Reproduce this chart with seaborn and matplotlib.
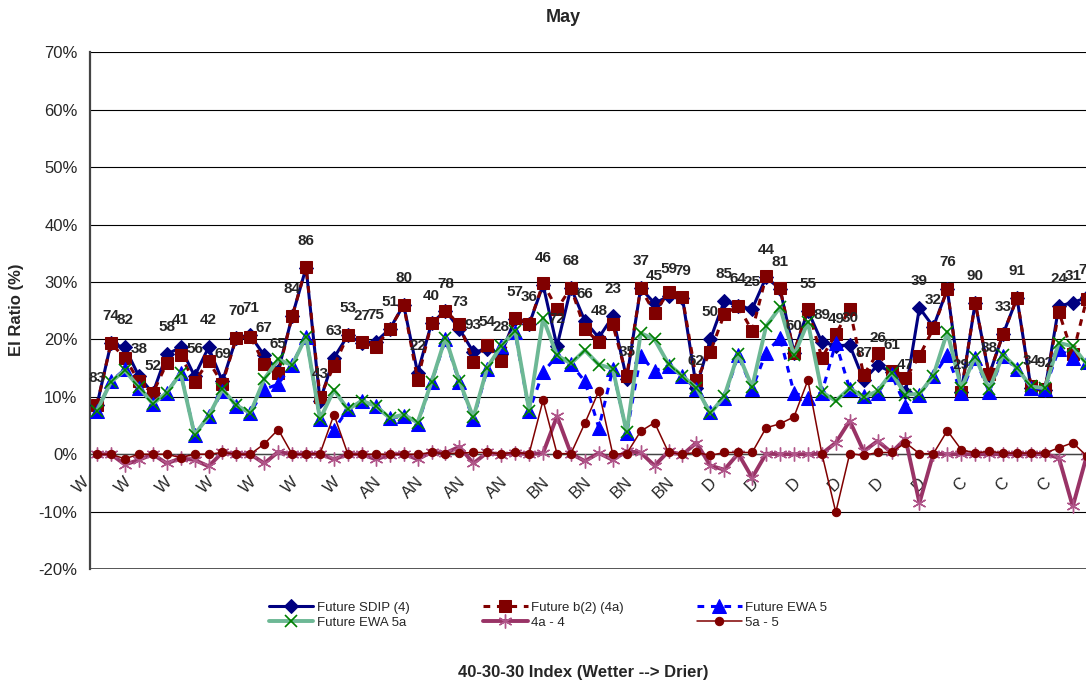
import matplotlib
matplotlib.use("Agg")
import matplotlib.pyplot as plt
import pandas as pd
import seaborn as sns

# water years (last two digits), sorted wet -> dry by the 40-30-30 index
years = [83, 74, 82, 38, 52, 58, 41, 56, 42, 69, 70, 71, 67, 65, 84, 86, 43, 63, 53, 27,
         75, 51, 80, 22, 40, 78, 73, 93, 54, 28, 57, 36, 46, 72, 68, 66, 48, 23, 35, 37,
         45, 59, 79, 62, 50, 85, 64, 25, 44, 81, 60, 55, 89, 49, 30, 87, 26, 61, 47, 39,
         32, 76, 29, 90, 88, 33, 91, 34, 92, 24, 31, 77]

# year type shown on every third category
type_labels = ["W"] * 7 + ["AN"] * 4 + ["BN"] * 4 + ["D"] * 6 + ["C"] * 3

sdip = [8.6, 19.3, 18.6, 13.6, 10.6, 17.4, 18.6, 13.6, 18.6, 12.7, 20.3, 20.7, 17.2, 14.5, 24.0,
        32.5, 9.3, 16.8, 20.7, 19.4, 19.6, 21.8, 26.0, 14.2, 22.8, 25.0, 21.8, 17.8, 18.3, 17.5,
        23.6, 22.6, 29.5, 18.8, 29.0, 23.2, 20.3, 24.0, 13.1, 28.9, 26.3, 27.5, 27.2, 11.6, 20.0,
        26.7, 25.8, 25.3, 30.8, 28.8, 17.7, 25.0, 19.5, 18.9, 19.0, 12.9, 15.5, 14.3, 10.8, 25.5,
        22.2, 28.7, 10.8, 26.4, 13.8, 20.9, 27.2, 11.6, 11.1, 25.8, 26.4, 27.3]

b2 = [8.6, 19.3, 16.8, 12.7, 10.6, 15.8, 17.2, 12.6, 16.2, 12.3, 20.3, 20.5, 15.7, 14.1, 24.0,
      32.6, 10.0, 15.4, 20.7, 19.5, 18.7, 21.8, 26.0, 13.0, 22.8, 25.0, 22.6, 16.1, 19.1, 16.2,
      23.8, 22.6, 29.8, 25.3, 29.0, 21.8, 19.5, 22.6, 13.6, 28.9, 24.6, 28.2, 27.3, 13.0, 17.8,
      24.4, 25.8, 21.5, 31.0, 28.9, 17.7, 25.3, 16.8, 20.9, 25.3, 13.8, 17.6, 14.5, 13.2, 17.1,
      21.9, 28.7, 10.8, 26.4, 13.9, 20.9, 27.2, 11.9, 11.3, 24.8, 17.4, 27.0]

ewa5 = [7.5, 12.7, 14.8, 11.6, 8.7, 10.7, 14.2, 3.4, 6.6, 11.0, 8.4, 7.2, 11.3, 12.2, 15.6,
        20.5, 6.1, 4.3, 7.8, 9.3, 8.4, 6.3, 6.6, 5.2, 12.5, 20.0, 12.5, 6.1, 14.8, 18.8,
        21.2, 7.5, 14.3, 17.1, 15.7, 12.7, 4.6, 14.8, 3.7, 17.1, 14.5, 15.4, 13.6, 11.3, 7.3,
        9.8, 17.2, 11.4, 17.7, 20.3, 10.7, 9.8, 10.7, 19.4, 11.4, 10.1, 10.7, 13.9, 8.4, 10.4,
        13.6, 17.2, 10.7, 16.8, 10.8, 17.1, 14.8, 11.6, 11.3, 18.3, 16.8, 16.0]

ewa5a = [7.6, 12.6, 14.6, 11.7, 8.8, 10.7, 14.1, 3.4, 6.6, 11.3, 8.5, 7.2, 13.1, 16.5, 15.5,
         20.5, 6.1, 11.2, 7.8, 9.3, 8.4, 6.3, 6.9, 5.5, 12.6, 20.3, 12.7, 6.4, 15.1, 18.9,
         21.5, 7.6, 23.7, 17.2, 15.8, 18.1, 15.6, 14.9, 3.8, 21.1, 20.0, 15.7, 13.6, 11.6, 7.1,
         10.1, 17.5, 11.7, 22.3, 25.6, 17.2, 23.0, 10.8, 9.3, 11.5, 9.9, 11.0, 14.2, 10.4, 10.5,
         13.7, 21.3, 11.5, 17.0, 11.3, 17.3, 15.0, 11.8, 11.5, 19.4, 18.8, 15.7]

d4 = [0.0, 0.0, -1.8, -1.0, 0.0, -1.6, -0.7, -1.0, -2.1, 0.3, 0.0, 0.0, -1.6, 0.4, 0.0,
      0.0, 0.1, -0.9, 0.0, 0.0, -0.9, -0.1, 0.1, -0.9, 0.4, 0.2, 1.3, -1.6, 0.3, -0.1,
      0.2, 0.0, 0.2, 6.6, 0.1, -1.2, 0.2, -1.0, 0.5, 0.3, -2.0, 0.5, -0.1, 2.0, -2.0,
      -2.7, 0.1, -4.1, 0.1, 0.0, 0.0, 0.0, 0.1, 2.0, 5.8, 0.5, 2.3, 0.3, 2.7, -8.5,
      0.1, 0.0, 0.0, 0.0, 0.0, 0.0, 0.0, 0.0, 0.0, -0.6, -9.1, -0.3]

d5 = [0.0, 0.0, -0.8, 0.0, 0.0, 0.0, -0.6, 0.0, 0.0, 0.3, 0.0, 0.0, 1.8, 4.3, 0.0,
      0.0, 0.1, 6.9, 0.0, 0.0, 0.0, 0.0, 0.0, 0.0, 0.3, 0.1, 0.2, 0.3, 0.3, 0.1,
      0.3, 0.1, 9.4, 0.1, 0.1, 5.4, 11.0, 0.0, 0.1, 4.0, 5.5, 0.3, 0.0, 0.3, -0.2,
      0.3, 0.3, 0.3, 4.6, 5.3, 6.5, 12.9, 0.1, -10.1, 0.1, -0.2, 0.3, 0.3, 2.0, 0.1,
      0.1, 4.1, 0.8, 0.2, 0.5, 0.2, 0.2, 0.2, 0.2, 1.1, 2.0, -0.3]

FONT = ["Liberation Sans", "DejaVu Sans"]


def build_df():
    frames = []
    for name, vals in [("Future SDIP (4)", sdip), ("Future b(2) (4a)", b2),
                       ("Future EWA 5", ewa5), ("Future EWA 5a", ewa5a),
                       ("4a - 4", d4), ("5a - 5", d5)]:
        frames.append(pd.DataFrame({"idx": range(len(vals)), "value": vals, "series": name}))
    return pd.concat(frames, ignore_index=True)


STYLES = {
    "Future SDIP (4)": dict(color="#000080", lw=2.2, ls="-", marker="D", ms=7.5,
                            mfc="#000080", mec="#000080"),
    "Future b(2) (4a)": dict(color="#800000", lw=2.2, ls=(0, (2.2, 2.2)), marker="s", ms=9,
                             mfc="#800000", mec="#800000"),
    "Future EWA 5": dict(color="#0000FF", lw=2.2, ls=(0, (2.2, 2.2)), marker="^", ms=9.5,
                         mfc="#0000FF", mec="#0000FF"),
    "Future EWA 5a": dict(color="#6DB895", lw=2.8, ls="-", marker="x", ms=9, mew=1.2,
                          mfc="#008000", mec="#008000"),
    "4a - 4": dict(color="#993366", lw=2.8, ls="-", marker=(6, 2, 0), ms=10, mew=1.0,
                   mfc="#B0568A", mec="#B0568A"),
    "5a - 5": dict(color="#800000", lw=1.1, ls="-", marker="o", ms=6,
                   mfc="#800000", mec="#800000"),
}


def main():
    sns.set_style("white")
    plt.rcParams["font.family"] = FONT

    df = build_df()
    n = len(years)

    fig = plt.figure(figsize=(10.86, 6.85), dpi=100)
    ax = fig.add_axes([0.0829, 0.1693, 0.937, 0.7543])

    for i, (name, style) in enumerate(STYLES.items()):
        sub = df[df["series"] == name]
        sns.lineplot(data=sub, x="idx", y="value", ax=ax, label=name, sort=False,
                     zorder=3 + i, **style)

    # year labels above the SDIP series
    for i, (yr, v) in enumerate(zip(years, sdip)):
        ax.annotate(str(yr), (i, v), xytext=(0, 19.5), textcoords="offset points",
                    ha="center", va="center", fontsize=11, fontweight="bold", zorder=10)

    # year-type labels under the 0% axis, every third category
    for k, lab in enumerate(type_labels):
        ax.annotate(lab, (3 * k, 0), xytext=(-7.5, -18.5), textcoords="offset points",
                    rotation=45, rotation_mode="anchor", ha="right", va="center",
                    fontsize=12, zorder=2.5)

    ax.set_xlim(-0.5, n + 0.5)
    ax.set_ylim(-20, 70)
    yt = list(range(-20, 71, 10))
    ax.set_yticks(yt)
    ax.set_yticklabels([f"{v}%" for v in yt], fontsize=12)
    ax.yaxis.grid(True, color="black", lw=0.8)
    ax.set_axisbelow(True)

    ax.set_xticks([k - 0.5 for k in range(n + 1)])
    ax.set_xticklabels([])
    ax.tick_params(axis="x", length=4, width=0.8, direction="out", color="black")
    ax.tick_params(axis="y", length=5, width=1, direction="out", color="#333333", pad=4)

    ax.spines["bottom"].set_position(("data", 0))
    ax.spines["bottom"].set_color("#444444")
    ax.spines["bottom"].set_linewidth(1.0)
    ax.spines["left"].set_color("#444444")
    ax.spines["left"].set_linewidth(1.6)
    ax.spines["right"].set_visible(False)
    ax.spines["top"].set_visible(False)
    ax.axhline(-20, color="#555555", lw=1.4, zorder=2)
    ax.set_xlabel("")
    ax.set_ylabel("")

    handles, labels = ax.get_legend_handles_labels()
    order = [0, 3, 1, 4, 2, 5]
    ax.get_legend().remove()
    fig.legend([handles[k] for k in order], [labels[k] for k in order], ncol=3,
               loc="center", bbox_to_anchor=(548 / 1086, 1 - 615 / 685), frameon=False,
               fontsize=9.5, handlelength=3.4, columnspacing=5.5, labelspacing=0.2,
               handletextpad=0.3)

    fig.text(563 / 1086, 1 - 18 / 685, "May", ha="center", va="center",
             fontsize=13, fontweight="bold")
    fig.text(17 / 1086, 1 - 310 / 685, "EI Ratio (%)", ha="center", va="center",
             rotation=90, fontsize=12, fontweight="bold")
    fig.text(583 / 1086, 1 - 673 / 685, "40-30-30 Index (Wetter --> Drier)",
             ha="center", va="center", fontsize=12, fontweight="bold")

    fig.savefig("out.png", dpi=100)


main()
